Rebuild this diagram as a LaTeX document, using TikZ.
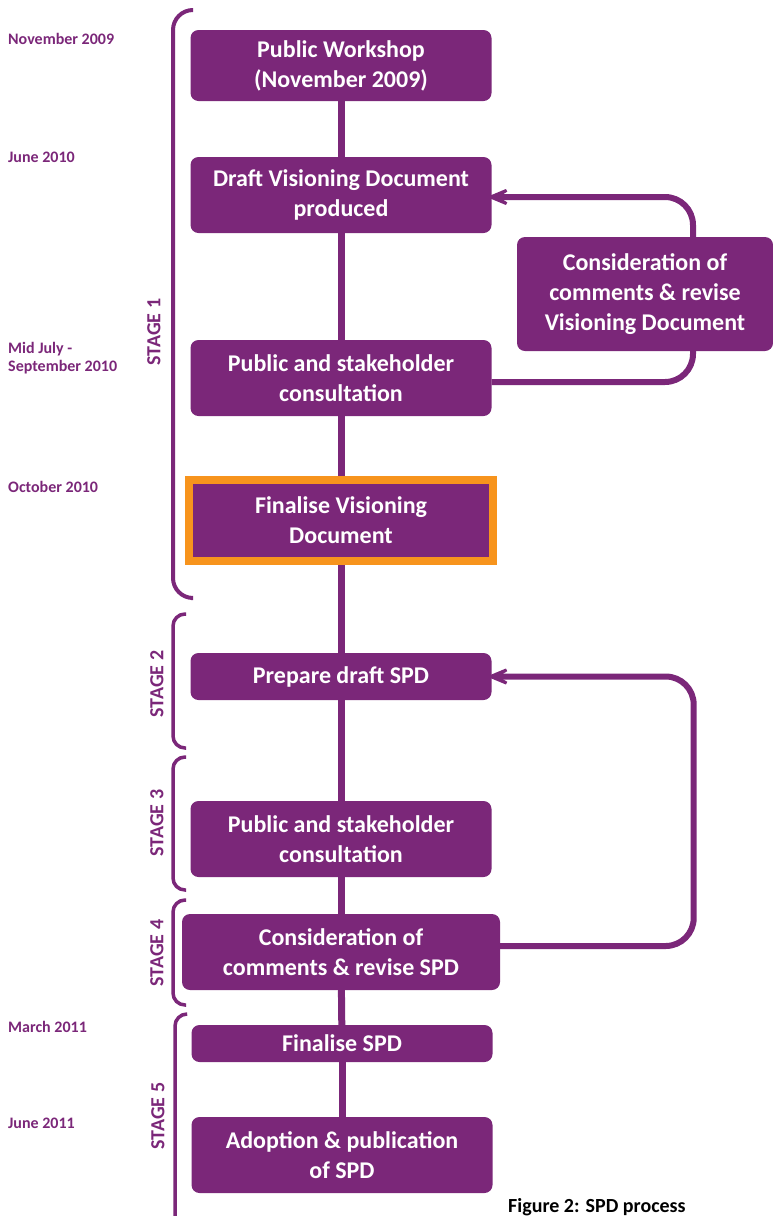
\documentclass[tikz,border=0pt]{standalone}
\usepackage{fontspec}
\setmainfont{Carlito}
\usepackage{tikz}
\usetikzlibrary{arrows.meta, positioning, calc}

\definecolor{spdpurple}{RGB}{123,39,121}
\definecolor{spdorange}{RGB}{247,148,29}

\begin{document}
\begin{tikzpicture}[
        x=1pt, y=-1pt,
        task/.style={rectangle, rounded corners=8pt, fill=spdpurple, text=white, inner sep=0pt,
            minimum width=301pt, minimum height=76pt, align=center,
            font=\fontsize{24}{30}\selectfont\bfseries},
        datetext/.style={anchor=west, text=spdpurple, align=left, inner sep=0pt,
            font=\fontsize{16}{18}\selectfont\bfseries},
        stagetext/.style={rotate=90, text=spdpurple, inner sep=0pt,
            font=\fontsize{20}{22}\selectfont\bfseries},
        bracket/.style={draw=spdpurple, line width=3.5pt, rounded corners=12pt},
        flow/.style={draw=spdpurple, line width=7pt},
        feedback/.style={draw=spdpurple, line width=6pt, rounded corners=28pt,
            -{Stealth[length=36pt, width=30pt, inset=24pt]}, shorten >=-5pt}
    ]
        \useasboundingbox (0,0) rectangle (773,1216);

        % Tasks
        \node[task, minimum height=71pt] (workshop) at (341,65.5) {Public Workshop\\(November 2009)};
        \node[task] (draftDoc) at (341,195) {Draft Visioning Document\\produced};
        \node[task] (consult1) at (341,378) {Public and stakeholder\\consultation};
        \node[task, rounded corners=0pt, draw=spdorange, line width=8pt,
            minimum width=304pt, minimum height=81pt] (finalDoc) at (341,520.5) {Finalise Visioning\\Document};
        \node[task, minimum height=47pt] (draftSPD) at (341,676.5) {Prepare draft SPD};
        \node[task] (consult2) at (341,839) {Public and stakeholder\\consultation};
        \node[task, minimum width=318pt] (reviseSPD) at (341,952) {Consideration of\\comments \& revise SPD};
        \node[task, minimum height=37pt] (finalSPD) at (342,1043.5) {Finalise SPD};
        \node[task] (adoptSPD) at (342,1155) {Adoption \& publication\\of SPD};
        \node[task, minimum width=256pt, minimum height=114pt] (reviseDoc) at (645,294)
            {Consideration of\\comments \& revise\\Visioning Document};

        % Dates
        \node[datetext] (date1) at (8,39) {November 2009};
        \node[datetext] (date2) at (8,157) {June 2010};
        \node[datetext] (date3) at (8,358) {Mid July -\\September 2010};
        \node[datetext] (date4) at (8,487) {October 2010};
        \node[datetext] (date5) at (8,1027) {March 2011};
        \node[datetext] (date6) at (8,1123) {June 2011};

        % Stages
        \node[stagetext] (stage1) at (154,332) {STAGE 1};
        \node[stagetext] (stage2) at (157,684) {STAGE 2};
        \node[stagetext] (stage3) at (157,823) {STAGE 3};
        \node[stagetext] (stage4) at (157,953) {STAGE 4};
        \node[stagetext] (stage5) at (158,1116) {STAGE 5};

        \draw[bracket, line width=4pt, rounded corners=20pt] (192,10) -- (173,10) -- (173,598) -- (191,598);
        \draw[bracket] (186,614) -- (173,614) -- (173,748) -- (186,748);
        \draw[bracket] (186,757) -- (173,757) -- (173,890) -- (186,890);
        \draw[bracket] (186,900) -- (173,900) -- (173,1005) -- (186,1005);
        \draw[bracket] (186,1014) -- (175,1014) -- (175,1240);

        % Main line
        \draw[flow] (workshop) -- (draftDoc);
        \draw[flow] (draftDoc) -- (consult1);
        \draw[flow] (consult1) -- (finalDoc);
        \draw[flow] (finalDoc) -- (draftSPD);
        \draw[flow] (draftSPD) -- (consult2);
        \draw[flow] (consult2) -- (reviseSPD);
        \draw[flow] (reviseSPD) -- (finalSPD);
        \draw[flow] (finalSPD) -- (adoptSPD);

        % Feedback loops
        \coordinate (loopx) at (693,0);
        \draw[feedback, -] ([yshift=-4pt]consult1.east) -| (reviseDoc.south -| loopx);
        \draw[feedback] (reviseDoc.north -| loopx) |- ([yshift=-2pt]draftDoc.east);
        \draw[feedback] ([yshift=6pt]reviseSPD.east) -| ([xshift=202pt]draftSPD.east) -- (draftSPD.east);

        % Caption
        \node[anchor=west, inner sep=0pt, font=\fontsize{20}{22}\selectfont\bfseries] (caption) at (508,1207) {Figure 2: SPD process};
    \end{tikzpicture}
\end{document}
